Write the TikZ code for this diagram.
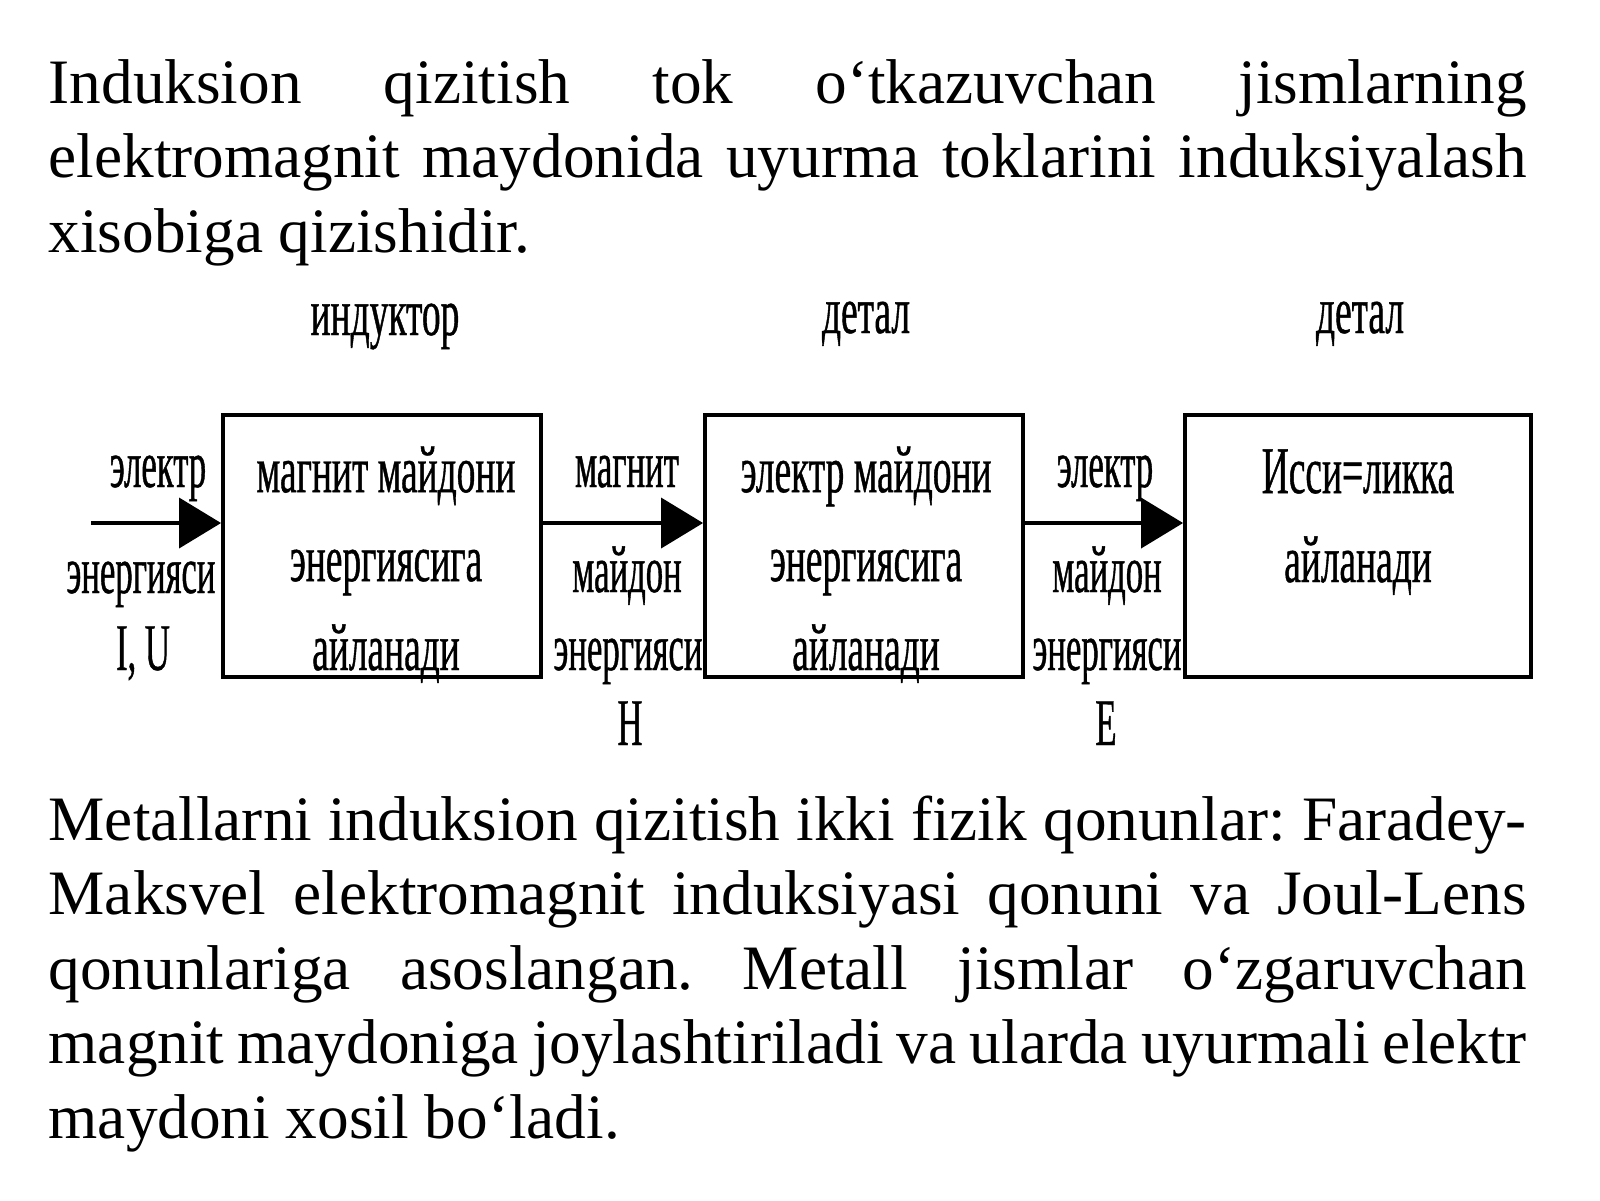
\documentclass[tikz,border=0pt]{standalone}
\usepackage{fontspec}
\setmainfont{Liberation Serif}
\newfontfamily\diagfont[FakeStretch=0.56,FakeBold=0.6]{Liberation Serif}
\newfontfamily\sidefont[FakeStretch=0.52,FakeBold=0.6]{Liberation Serif}
\usetikzlibrary{arrows.meta}
\frenchspacing

\begin{document}
\begin{tikzpicture}[
  txt/.style={anchor=base west, inner sep=0pt, text width=14.78cm, align=justify,
    font=\fontsize{18}{21.2}\selectfont},
  lbl/.style={anchor=base, inner sep=0pt, align=center,
    font=\diagfont\fontsize{19}{25.3}\selectfont},
  side/.style={lbl, font=\sidefont\fontsize{19}{25.3}\selectfont},
  blk/.style={draw, line width=1.1pt, minimum width=#1, minimum height=2.62cm, inner sep=0pt},
  flow/.style={line width=1.1pt, -{Triangle[length=4.2mm,width=5mm]}}
]
\useasboundingbox (0,0) rectangle (16,-12);

\node[txt] (intro) at (0.48,-1.03) {\hyphenpenalty=10000
Induksion qizitish tok o‘tkazuvchan jismlarning\linebreak
elektromagnit maydonida uyurma toklarini induksiyalash\linebreak
xisobiga qizishidir.};

\node[blk=3.18cm] (b1) at (3.82,-5.46) {};
\node[blk=3.18cm] (b2) at (8.64,-5.46) {};
\node[blk=3.46cm] (b3) at (13.58,-5.46) {};

\node[lbl] (ind) at (3.85,-3.35) {индуктор};
\node[lbl] (det1) at (8.66,-3.33) {детал};
\node[lbl] (det2) at (13.60,-3.33) {детал};

\node[lbl] (t1) at (3.86,-6.70) {магнит майдони\\энергиясига\\айланади};
\node[lbl] (t2) at (8.66,-6.70) {электр майдони\\энергиясига\\айланади};
\node[lbl] (t3) at (13.58,-5.82) {Исси=ликка\\айланади};

\node[side] (in1) at (1.58,-4.87) {электр};
\node[side] (in2) at (1.41,-5.93) {энергияси};
\node[side] (in3) at (1.43,-6.70) {I, U};

\node[side] (m1) at (6.27,-4.87) {магнит};
\node[side] (m2) at (6.27,-5.92) {майдон};
\node[side] (m3) at (6.28,-6.70) {энергияси};
\node[side] (m4) at (6.30,-7.45) {H};

\node[side] (e1) at (11.05,-4.87) {электр};
\node[side] (e2) at (11.07,-5.92) {майдон};
\node[side] (e3) at (11.07,-6.70) {энергияси};
\node[side] (e4) at (11.06,-7.45) {E};

\coordinate (src) at (0.91,-5.23);
\draw[flow] (src) -- (b1.west |- src);
\draw[flow] (b1.east |- src) -- (b2.west |- src);
\draw[flow] (b2.east |- src) -- (b3.west |- src);

\node[txt] (laws) at (0.48,-8.40) {\hyphenpenalty=10000
Metallarni induksion qizitish ikki fizik qonunlar: Faradey-\linebreak
Maksvel elektromagnit induksiyasi qonuni va Joul-Lens\linebreak
qonunlariga asoslangan. Metall jismlar o‘zgaruvchan\linebreak
magnit maydoniga joylashtiriladi va ularda uyurmali elektr\linebreak
maydoni xosil bo‘ladi.};
\end{tikzpicture}
\end{document}
